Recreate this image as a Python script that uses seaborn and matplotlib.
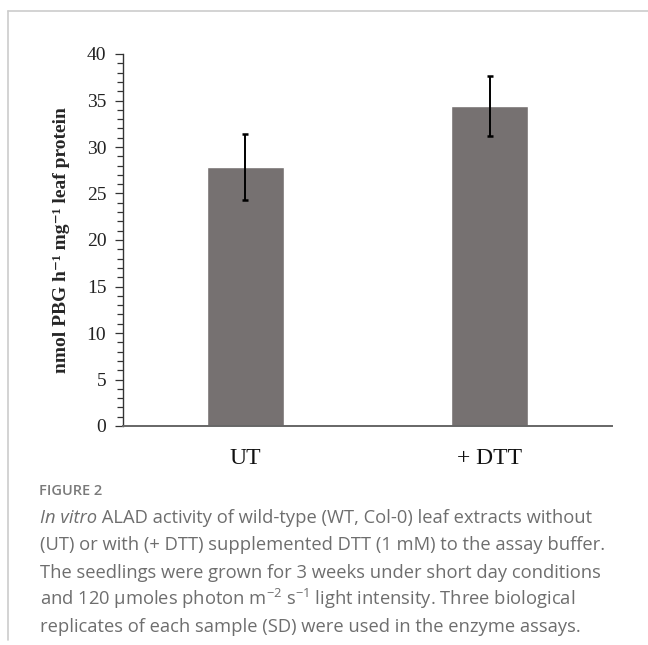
import matplotlib
matplotlib.use("Agg")
import matplotlib.pyplot as plt
import pandas as pd
import numpy as np
import seaborn as sns
from matplotlib.lines import Line2D
from matplotlib.ticker import MultipleLocator

# data
treatments = ['UT', '+ DTT']
activity = [27.85, 34.4]
activity_sd = [3.5, 3.2]

data = pd.DataFrame({'treatment': treatments, 'activity': activity})

sns.set_style("white")
plt.rcParams['mathtext.fontset'] = 'custom'
plt.rcParams['mathtext.rm'] = 'Open Sans'
plt.rcParams['mathtext.it'] = 'Open Sans:italic'

fig = plt.figure(figsize=(6.48, 6.45), dpi=100)
ax = fig.add_axes([123 / 648, 1 - 426 / 645, 489 / 648, 372 / 645])

sns.barplot(data=data, x='treatment', y='activity', color='#767171', saturation=1,
            width=0.315, errorbar=None, ax=ax)
ax.errorbar(np.arange(len(treatments)), data['activity'], yerr=activity_sd, fmt='none',
            ecolor='black', elinewidth=1.4, capsize=2.5, capthick=1.8)

ax.set_xlim(-0.5, 1.5)
ax.set_ylim(0, 40)
ax.yaxis.set_major_locator(MultipleLocator(5))
ax.yaxis.set_minor_locator(MultipleLocator(1))
ax.tick_params(axis='y', which='major', direction='out', left=True, length=6, width=0.9,
               color='#333333', pad=6)
ax.tick_params(axis='y', which='minor', direction='out', left=True, length=4, width=0.9,
               color='#333333')
ax.tick_params(axis='x', length=0, pad=16)
for lab in ax.get_yticklabels():
    lab.set_fontfamily('Liberation Serif')
    lab.set_fontsize(14)
    lab.set_color('#222222')
for lab in ax.get_xticklabels():
    lab.set_fontfamily('Liberation Serif')
    lab.set_fontsize(17)
    lab.set_color('#111111')

sns.despine(ax=ax)
ax.spines['left'].set_color('#333333')
ax.spines['bottom'].set_color('#666666')
ax.spines['left'].set_linewidth(1.0)
ax.spines['bottom'].set_linewidth(1.4)

ax.set_xlabel('')
ax.set_ylabel('nmol PBG h\u207b\u00b9 mg\u207b\u00b9 leaf protein',
              fontfamily=['Liberation Serif', 'DejaVu Serif'], fontweight='bold', fontsize=14,
              labelpad=12)

# frame of the figure panel
fig.add_artist(Line2D([8 / 648, 1], [1 - 11 / 645, 1 - 11 / 645], color='#cccccc', lw=1.2))
fig.add_artist(Line2D([8 / 648, 8 / 648], [1 - 11 / 645, 1 - 640 / 645], color='#cccccc', lw=1.2))

# caption
cap_color = '#6e6e6e'
cap_size = 13.2
fig.text(39 / 648, 1 - 491 / 645, 'FIGURE 2', fontfamily='Open Sans', fontsize=10.5,
         fontweight='semibold', color='#7a7a7a', va='center')
t1 = fig.text(40 / 648, 1 - 523 / 645, 'In vitro', fontfamily='Open Sans', fontstyle='italic',
              fontsize=cap_size, color=cap_color, va='baseline')
ax.annotate(' ALAD activity of wild-type (WT, Col-0) leaf extracts without', xy=(1, 0),
            xycoords=t1, va='bottom', fontfamily='Open Sans', fontsize=cap_size, color=cap_color,
            annotation_clip=False)
lines = ['(UT) or with (+ DTT) supplemented DTT (1 mM) to the assay buffer.',
         'The seedlings were grown for 3 weeks under short day conditions',
         r'and 120 µmoles photon m$^{\mathrm{-2}}$ s$^{\mathrm{-1}}$ light intensity. Three biological',
         'replicates of each sample (SD) were used in the enzyme assays.']
for i, s in enumerate(lines):
    fig.text(40 / 648, 1 - (550.5 + 27.3 * i) / 645, s, fontfamily='Open Sans', fontsize=cap_size,
             color=cap_color, va='baseline')

plt.savefig('out.png', dpi=100)
plt.close()
